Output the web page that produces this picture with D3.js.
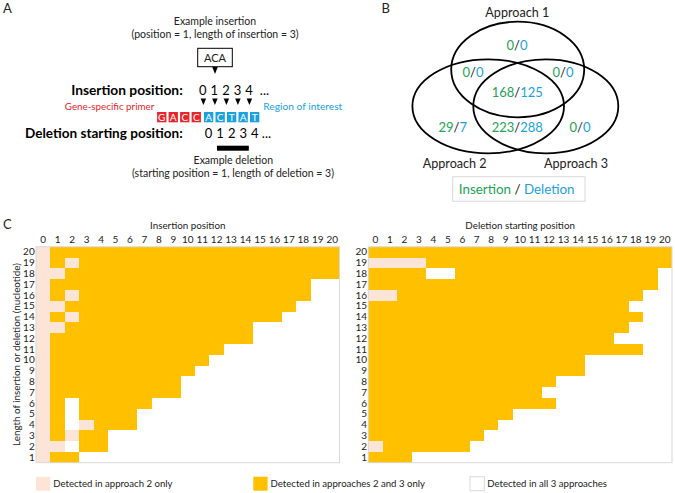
<!DOCTYPE html>
<html>
<head>
<meta charset="utf-8">
<script src="https://cdn.jsdelivr.net/npm/d3@7"></script>
<style>
  body { margin: 0; background: #fff; }
  svg { display: block; font-family: Lato, "Open Sans", sans-serif; }
</style>
</head>
<body>
<div id="chart"></div>
<script>
// ---- data ----
// panel A: the example sequence
const primerBases = ["G", "A", "C", "C"];
const regionBases = ["A", "C", "T", "A", "T"];
const positionLabels = ["0", "1", "2", "3", "4"];

// panel B: counts per Venn region (insertion / deletion)
const vennRegions = ["1 only", "1 and 2", "1 and 3", "1, 2 and 3", "2 only", "2 and 3", "3 only"];
const insertionCounts = [0, 0, 0, 168, 29, 223, 0];
const deletionCounts = [0, 0, 0, 125, 7, 288, 0];
const approachNames = ["Approach 1", "Approach 2", "Approach 3"];

// panel C: heat maps. p = approach 2 only, o = approaches 2 and 3 only, . = all 3 approaches
const positions = ["0","1","2","3","4","5","6","7","8","9","10","11","12","13","14","15","16","17","18","19","20"];
const lengths = ["20","19","18","17","16","15","14","13","12","11","10","9","8","7","6","5","4","3","2","1"];
const insertionRows = [
  "poooooooooooooooooooo", // 20
  "popoooooooooooooooooo", // 19
  "ppooooooooooooooooooo", // 18
  "poooooooooooooooooo..", // 17
  "popoooooooooooooooo..", // 16
  "ppoooooooooooooooo...", // 15
  "popoooooooooooooo....", // 14
  "ppooooooooooooo......", // 13
  "poooooooooooooo......", // 12
  "poooooooooooo........", // 11
  "pooooooooooo.........", // 10
  "poooooooooo..........", // 9
  "pooooooooo...........", // 8
  "pooooooooo...........", // 7
  "po.ooooo.............", // 6
  "po.oooo..............", // 5
  "po.pooo..............", // 4
  "popoo................", // 3
  "pp.oo................", // 2
  "poo.................."  // 1
];
const deletionRows = [
  "ooooooooooooooooooooo", // 20
  "ppppooooooooooooooooo", // 19
  "oooo..oooooooooooooo.", // 18
  "oooooooooooooooooooo.", // 17
  "ppooooooooooooooooo..", // 16
  "oooooooooooooooooo...", // 15
  "ooooooooooooooooooo..", // 14
  "oooooooooooooooooo...", // 13
  "ooooooooooooooooo....", // 12
  "ooooooooooooooooooo..", // 11
  "ooooooooooooooo......", // 10
  "ooooooooooooooo......", // 9
  "ooooooooooooo........", // 8
  "oooooooooooo.........", // 7
  "ooooooooooooo........", // 6
  "oooooooooo...........", // 5
  "ooooooooo............", // 4
  "oooooooo.............", // 3
  "poooooo..............", // 2
  "ooo.................."  // 1
];
const categoryCodes = ["p", "o", "."];
const categoryLabels = ["Detected in approach 2 only", "Detected in approaches 2 and 3 only", "Detected in all 3 approaches"];

// ---- styles ----
const width = 675, height = 493;
const pink = "#fce4d6", orange = "#ffc000", gridLine = "#d9d9d9";
const green = "#22a356", blue = "#1ba1dd", red = "#e8262b", textCol = "#222";
const color = d3.scaleOrdinal().domain(categoryCodes).range([pink, orange, "#fff"]);

const svg = d3.select("#chart")
    .append("svg")
    .attr("width", width)
    .attr("height", height);

svg.append("rect").attr("width", width).attr("height", height).attr("fill", "#fff");

function panelLetter(x, y, t) {
    svg.append("text").attr("x", x).attr("y", y)
        .attr("font-size", 13).attr("fill", textCol).text(t);
}

// scale the font so the text gets the width it has in the figure
function fitWidth(sel, w) {
    const len = sel.node().getComputedTextLength();
    if (len > 0) sel.attr("font-size", +sel.attr("font-size") * w / len);
    return sel;
}

function downTriangle(g, x, yTop, w, h) {
    g.append("path")
        .attr("d", `M${x - w / 2},${yTop}L${x + w / 2},${yTop}L${x},${yTop + h}Z`)
        .attr("fill", "#000");
}

// ---- panel A ----
function drawPanelA() {
    panelLetter(3, 13, "A");
    const g = svg.append("g");

    g.append("text").attr("x", 215).attr("y", 25).attr("text-anchor", "middle")
        .attr("font-size", 10.5).attr("fill", textCol).text("Example insertion");
    g.append("text").attr("x", 215).attr("y", 38).attr("text-anchor", "middle")
        .attr("font-size", 10.5).attr("fill", textCol).text("(position = 1, length of insertion = 3)");

    // inserted bases box
    g.append("rect").attr("x", 197.7).attr("y", 48.3).attr("width", 34.6).attr("height", 18.4)
        .attr("fill", "#fff").attr("stroke", "#000").attr("stroke-width", 1);
    g.append("text").attr("x", 215).attr("y", 61.5).attr("text-anchor", "middle")
        .attr("font-size", 11).attr("fill", textCol).text("ACA");
    downTriangle(g, 215, 67, 5.5, 7);

    // scales for the bases
    const regionX = d3.scaleBand().domain(d3.range(regionBases.length))
        .range([201.8, 261.5]).padding(0.19);
    const primerX = d3.scaleBand().domain(d3.range(primerBases.length))
        .range([154.9, 203.1]).padding(0.19);
    const gapOff = regionX.step() * 0.19 / 2;

    fitWidth(g.append("text").attr("x", 182.7).attr("y", 95).attr("text-anchor", "end")
        .attr("font-size", 13.5).attr("font-weight", "bold").attr("fill", "#000")
        .text("Insertion position:"), 111.7);
    g.selectAll(".ipos").data(positionLabels).enter().append("text")
        .attr("x", (d, i) => regionX(i) - gapOff)
        .attr("y", 95).attr("text-anchor", "middle")
        .attr("font-size", 13).attr("fill", "#000").text(d => d);
    g.append("text").attr("x", regionX(4) + regionX.bandwidth() + 0.5).attr("y", 95)
        .attr("font-size", 13).attr("fill", "#000").text("...");
    positionLabels.forEach((d, i) => downTriangle(g, regionX(i) - gapOff + 0.5, 98.5, 5.5, 6.5));

    g.append("text").attr("x", 154.3).attr("y", 110).attr("text-anchor", "end")
        .attr("font-size", 9.8).attr("fill", red).text("Gene-specific primer");
    g.append("text").attr("x", 263.3).attr("y", 110)
        .attr("font-size", 10.2).attr("fill", blue).text("Region of interest");

    const boxY = 112, boxH = 10.3;
    g.selectAll(".pbox").data(primerBases).enter().append("rect")
        .attr("x", (d, i) => primerX(i)).attr("y", boxY)
        .attr("width", primerX.bandwidth()).attr("height", boxH).attr("fill", red);
    g.selectAll(".pbase").data(primerBases).enter().append("text")
        .attr("x", (d, i) => primerX(i) + primerX.bandwidth() / 2).attr("y", boxY + 8.6)
        .attr("text-anchor", "middle").attr("font-size", 10).attr("fill", "#fff").text(d => d);
    g.selectAll(".rbox").data(regionBases).enter().append("rect")
        .attr("x", (d, i) => regionX(i)).attr("y", boxY)
        .attr("width", regionX.bandwidth()).attr("height", boxH).attr("fill", blue);
    g.selectAll(".rbase").data(regionBases).enter().append("text")
        .attr("x", (d, i) => regionX(i) + regionX.bandwidth() / 2).attr("y", boxY + 8.6)
        .attr("text-anchor", "middle").attr("font-size", 10).attr("fill", "#fff").text(d => d);

    fitWidth(g.append("text").attr("x", 182.7).attr("y", 138.3).attr("text-anchor", "end")
        .attr("font-size", 13.5).attr("font-weight", "bold").attr("fill", "#000")
        .text("Deletion starting position:"), 157.7);
    g.selectAll(".dpos").data(positionLabels).enter().append("text")
        .attr("x", (d, i) => regionX(i) + regionX.bandwidth() / 2)
        .attr("y", 138.3).attr("text-anchor", "middle")
        .attr("font-size", 13).attr("fill", "#000").text(d => d);
    g.append("text").attr("x", regionX(4) + regionX.bandwidth() + 2.5).attr("y", 138.3)
        .attr("font-size", 13).attr("fill", "#000").text("...");

    // deleted bases: positions 1 to 3
    g.append("rect").attr("x", regionX(1) + 1.5).attr("y", 145.7)
        .attr("width", regionX(3) + regionX.bandwidth() - regionX(1) - 0.5).attr("height", 5)
        .attr("fill", "#000");

    g.append("text").attr("x", 233.3).attr("y", 164.3).attr("text-anchor", "middle")
        .attr("font-size", 10.5).attr("fill", textCol).text("Example deletion");
    g.append("text").attr("x", 233).attr("y", 177.3).attr("text-anchor", "middle")
        .attr("font-size", 10.5).attr("fill", textCol).text("(starting position = 1, length of deletion = 3)");
}

// ---- panel B ----
function drawPanelB() {
    panelLetter(381.5, 12.7, "B");
    const g = svg.append("g");
    const ellipses = [
        { cx: 517.7, cy: 69.5, rx: 66.5, ry: 47.8 },
        { cx: 488.2, cy: 106.3, rx: 75.8, ry: 47 },
        { cx: 545.8, cy: 106.3, rx: 72.5, ry: 47 }
    ];
    g.selectAll("ellipse").data(ellipses).enter().append("ellipse")
        .attr("cx", d => d.cx).attr("cy", d => d.cy)
        .attr("rx", d => d.rx).attr("ry", d => d.ry)
        .attr("fill", "none").attr("stroke", "#000").attr("stroke-width", 1.8);

    const namePos = [[517.3, 16.7], [454.7, 168.3], [576, 168.3]];
    g.selectAll(".aname").data(approachNames).enter().append("text")
        .attr("x", (d, i) => namePos[i][0]).attr("y", (d, i) => namePos[i][1])
        .attr("text-anchor", "middle").attr("font-size", 12.6).attr("fill", textCol)
        .text(d => d);

    const labelPos = [[517, 50], [473, 77.3], [563, 77.3], [517.2, 96.7], [452.7, 132.3], [517.2, 132.3], [580, 132.3]];
    const lab = g.selectAll(".count").data(vennRegions).enter().append("text")
        .attr("x", (d, i) => labelPos[i][0]).attr("y", (d, i) => labelPos[i][1])
        .attr("text-anchor", "middle").attr("font-size", 13);
    lab.append("tspan").attr("fill", green).text((d, i) => insertionCounts[i]);
    lab.append("tspan").attr("fill", textCol).text("/");
    lab.append("tspan").attr("fill", blue).text((d, i) => deletionCounts[i]);

    g.append("rect").attr("x", 452.7).attr("y", 176.7).attr("width", 132.3).attr("height", 24.5)
        .attr("fill", "none").attr("stroke", gridLine).attr("stroke-width", 1);
    const key = g.append("text").attr("x", 516.7).attr("y", 193.5)
        .attr("text-anchor", "middle").attr("font-size", 13.4);
    key.append("tspan").attr("fill", green).text("Insertion");
    key.append("tspan").attr("fill", textCol).text(" / ");
    key.append("tspan").attr("fill", blue).text("Deletion");
}

// ---- panel C ----
function drawHeatmap(rows, x0, x1, title) {
    const top = 246.7, bottom = 462.7;
    const x = d3.scaleBand().domain(positions).range([x0, x1]);
    const y = d3.scaleBand().domain(lengths).range([top, bottom]);
    const g = svg.append("g");

    const cells = [];
    rows.forEach((row, r) => {
        row.split("").forEach((code, c) => {
            cells.push({ len: lengths[r], pos: positions[c], code: code });
        });
    });

    g.selectAll("rect.cell").data(cells).enter().append("rect")
        .attr("class", "cell")
        .attr("x", d => x(d.pos)).attr("y", d => y(d.len))
        .attr("width", x.bandwidth() + 0.3).attr("height", y.bandwidth() + 0.3)
        .attr("fill", d => color(d.code))
        .attr("shape-rendering", "crispEdges");

    g.append("rect").attr("x", x0).attr("y", top).attr("width", x1 - x0).attr("height", bottom - top)
        .attr("fill", "none").attr("stroke", gridLine).attr("stroke-width", 1);

    const xAxis = g.append("g").attr("transform", `translate(0,${top})`)
        .call(d3.axisTop(x).tickSize(0).tickPadding(3.4));
    const yAxis = g.append("g").attr("transform", `translate(${x0},0)`)
        .call(d3.axisLeft(y).tickSize(0).tickPadding(1.3));
    [xAxis, yAxis].forEach(a => {
        a.select(".domain").remove();
        a.selectAll("text").attr("font-family", "Lato, sans-serif")
            .attr("font-size", 10).attr("fill", textCol);
    });

    g.append("text").attr("x", (x0 + x1) / 2).attr("y", 229.3).attr("text-anchor", "middle")
        .attr("font-size", 9.8).attr("fill", textCol).text(title);
}

function drawPanelC() {
    panelLetter(3, 229.3, "C");
    drawHeatmap(insertionRows, 36, 339.5, "Insertion position");
    drawHeatmap(deletionRows, 368.3, 672, "Deletion starting position");

    svg.append("text")
        .attr("transform", "translate(19.5,354.5) rotate(-90)")
        .attr("text-anchor", "middle").attr("font-size", 9.8).attr("fill", textCol)
        .text("Length of insertion or deletion (nucleotide)");

    // legend
    const legendX = [36, 253.3, 470];
    const lg = svg.append("g");
    lg.selectAll("rect").data(categoryCodes).enter().append("rect")
        .attr("x", (d, i) => legendX[i]).attr("y", 476.7)
        .attr("width", 14.3).attr("height", 14)
        .attr("fill", d => color(d))
        .attr("stroke", (d, i) => i === 2 ? gridLine : "none");
    lg.selectAll("text").data(categoryLabels).enter().append("text")
        .attr("x", (d, i) => legendX[i] + 17.3).attr("y", 486.9)
        .attr("font-size", 9.6).attr("fill", textCol).text(d => d);
}

drawPanelA();
drawPanelB();
drawPanelC();
</script>
</body>
</html>
